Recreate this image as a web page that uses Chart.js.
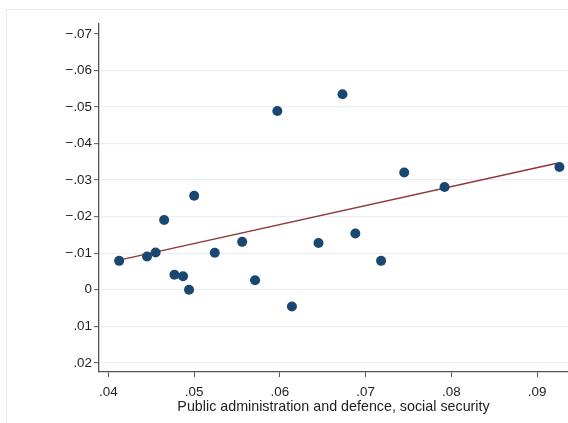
<!DOCTYPE html>
<html>
<head>
<meta charset="utf-8">
<style>
  html, body { margin: 0; padding: 0; background: #ffffff; }
  #wrap { width: 568px; height: 423px; position: relative; }
</style>
<script src="https://cdn.jsdelivr.net/npm/chart.js@4/dist/chart.umd.min.js"></script>
</head>
<body>
<div id="wrap"><canvas id="c" width="568" height="423"></canvas></div>
<script>
// Share of public administration & defence (x) against the outcome (y)
const sectorShare = [0.04125, 0.0445, 0.0455, 0.0465, 0.0477, 0.0487, 0.0494, 0.0500, 0.0524, 0.0556,
                     0.0571, 0.0597, 0.0614, 0.0645, 0.0673, 0.0688, 0.0718, 0.0745, 0.0792, 0.0926];
const outcome     = [-0.0079, -0.0091, -0.0102, -0.0191, -0.0041, -0.0037, 0.0000, -0.0257, -0.0101, -0.0131,
                     -0.0026, -0.0489, 0.0046, -0.0128, -0.0535, -0.0154, -0.0079, -0.0321, -0.0281, -0.0336];

// Linear fit endpoints
const fitX = [0.04125, 0.0923];
const fitY = [-0.0081, -0.0346];

const yTicks = [-0.07, -0.06, -0.05, -0.04, -0.03, -0.02, -0.01, 0, 0.01, 0.02];
const xTicks = [0.04, 0.05, 0.06, 0.07, 0.08, 0.09];
const xTitle = 'Public administration and defence, social security';

// Stata-style labels: drop the leading zero, use a true minus sign
function fmt(v) {
  if (Math.abs(v) < 1e-9) return '0';
  const s = Math.abs(v).toFixed(2).replace('0.', '.');
  return v < 0 ? '\u2212' + s : s;
}

const frame = {
  id: 'frame',
  beforeDraw(chart) {
    const ctx = chart.ctx;
    ctx.save();
    ctx.strokeStyle = '#e4eaee';
    ctx.lineWidth = 1;
    ctx.strokeRect(6.5, 9.5, 700, 600);
    ctx.restore();
  }
};

new Chart(document.getElementById('c'), {
  type: 'scatter',
  data: {
    datasets: [
      {
        type: 'line',
        data: fitX.map((x, i) => ({ x, y: fitY[i] })),
        borderColor: '#90353b',
        borderWidth: 1.4,
        pointRadius: 0,
        fill: false,
        order: 2
      },
      {
        data: sectorShare.map((x, i) => ({ x, y: outcome[i] })),
        backgroundColor: '#1a476f',
        borderColor: '#1a476f',
        pointRadius: 5,
        pointBorderWidth: 0,
        order: 1
      }
    ]
  },
  options: {
    responsive: false,
    animation: false,
    devicePixelRatio: 1,
    layout: { autoPadding: false, padding: { top: 24, right: 0, left: 0, bottom: 0 } },
    plugins: { legend: { display: false }, tooltip: { enabled: false } },
    scales: {
      x: {
        type: 'linear',
        min: 0.0389,
        max: 0.0936,
        afterBuildTicks: s => { s.ticks = xTicks.map(v => ({ value: v })); },
        afterFit: s => { s.height = 51; },
        ticks: {
          callback: v => fmt(v),
          color: '#1e1e1e',
          font: { family: 'Liberation Sans', size: 13.4 },
          padding: 7,
          maxRotation: 0
        },
        grid: { drawOnChartArea: false, tickLength: 5, tickColor: '#555555', tickWidth: 1 },
        border: { color: '#555555', width: 1.3 },
        title: {
          display: true,
          text: xTitle,
          color: '#1e1e1e',
          font: { family: 'Liberation Sans', size: 14.3 },
          padding: { top: 0, bottom: 7 }
        }
      },
      y: {
        type: 'linear',
        reverse: true,
        min: -0.0727,
        max: 0.0225,
        afterBuildTicks: s => { s.ticks = yTicks.map(v => ({ value: v })); },
        afterFit: s => { s.width = 99; },
        ticks: {
          callback: v => fmt(v),
          color: '#1e1e1e',
          font: { family: 'Liberation Sans', size: 13.4 },
          padding: 2
        },
        grid: {
          color: ctx => (ctx.tick && Math.abs(ctx.tick.value + 0.07) < 1e-9) ? 'rgba(0,0,0,0)' : '#eaf0f2',
          lineWidth: 1.3,
          tickLength: 5,
          tickColor: '#555555',
          tickWidth: 1
        },
        border: { color: '#555555', width: 1.3 }
      }
    }
  },
  plugins: [frame]
});
</script>
</body>
</html>
